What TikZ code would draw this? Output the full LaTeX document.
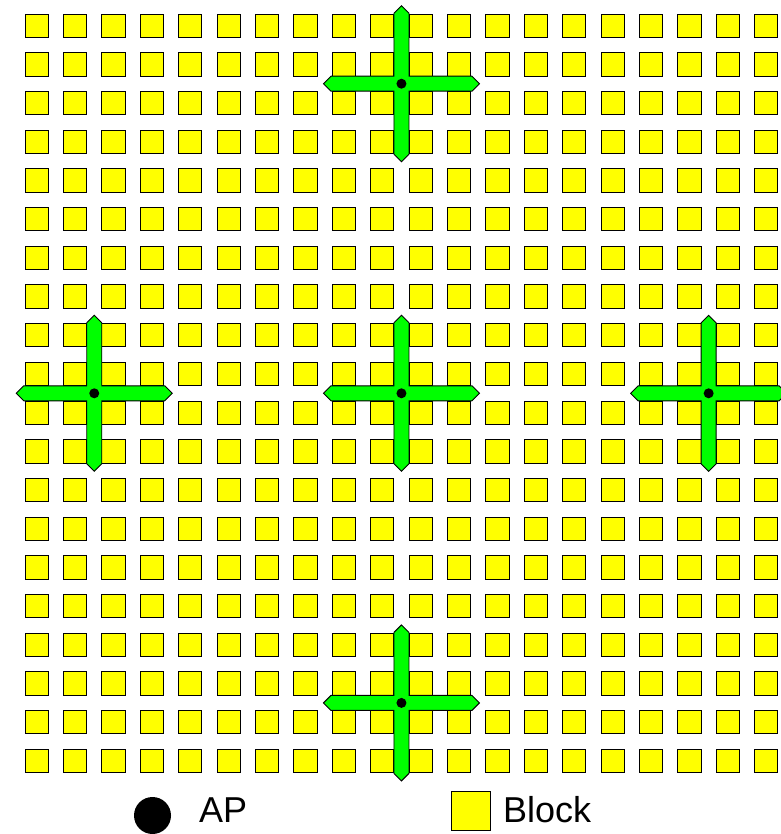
\documentclass[tikz,border=0pt]{standalone}
\usepackage{fontspec}
\setmainfont{Liberation Sans}
\definecolor{blockyellow}{RGB}{255,255,0}
\definecolor{crossgreen}{RGB}{0,255,0}
\begin{document}
\begin{tikzpicture}[x=1pt,y=-1pt,
  blockstyle/.style={draw=black, fill=blockyellow, line width=0.9pt},
  crossstyle/.style={draw=black, fill=crossgreen, line width=0.9pt, line join=miter},
  apdot/.style={circle, fill=black, inner sep=0pt, minimum size=10pt},
  legendtext/.style={anchor=base west, inner sep=0pt, font=\fontsize{36}{40}\selectfont}]
\useasboundingbox (0,0) rectangle (780,834);
% grid of blocks
\foreach \i in {0,...,19} {
  \foreach \j in {0,...,19} {
    \draw[blockstyle] ({25+38.4*\i},{14+38.7*\j}) rectangle ++(23.3,23.3);
  }
}
% access points with their crosses
\foreach \n/\c/\r in {a/9/1, b/1/9, c/9/9, d/17/9, e/9/17} {
  \begin{scope}[shift={({55.85+38.4*\c},{45+38.7*\r})}]
    \draw[crossstyle] (78,0) -- (70.5,7.5) -- (7.5,7.5) -- (7.5,70.5) -- (0,78)
      -- (-7.5,70.5) -- (-7.5,7.5) -- (-70.5,7.5) -- (-78,0) -- (-70.5,-7.5)
      -- (-7.5,-7.5) -- (-7.5,-70.5) -- (0,-78) -- (7.5,-70.5) -- (7.5,-7.5)
      -- (70.5,-7.5) -- cycle;
    \node[apdot] (ap\n) at (0,0) {};
  \end{scope}
}
% legend
\node[circle, fill=black, inner sep=0pt, minimum size=37pt] (legap) at (152.5,815.5) {};
\node[legendtext] (legaptext) at (199,822.7) {AP};
\node[blockstyle, anchor=north west, inner sep=0pt, minimum width=38.5pt, minimum height=39pt] (legblock) at (451,791) {};
\node[legendtext] (legblocktext) at (503,822.7) {Block};
\end{tikzpicture}
\end{document}
